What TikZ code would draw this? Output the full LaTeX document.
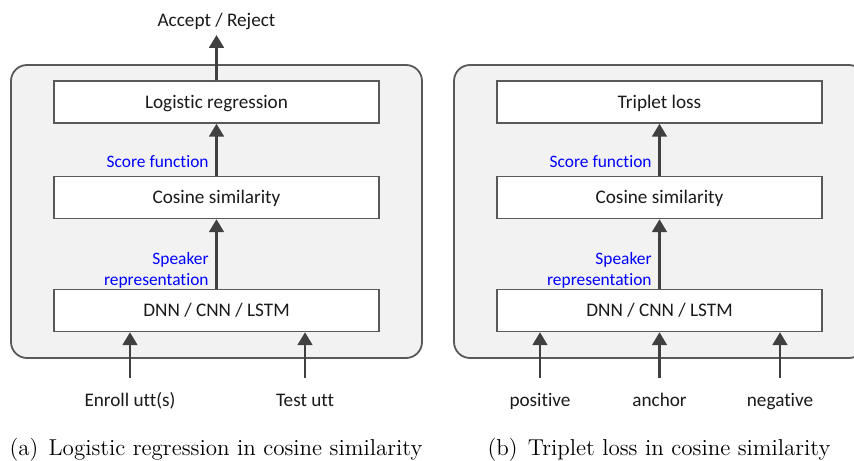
\documentclass[tikz,border=0pt]{standalone}
\usepackage{fontspec}
\setsansfont{Carlito}[Ligatures=NoCommon]
\usetikzlibrary{arrows.meta}
\definecolor{panelfill}{HTML}{F2F2F2}
\definecolor{edgegray}{HTML}{595959}
\definecolor{arrowgray}{HTML}{404040}
\definecolor{txt}{HTML}{1A1A1A}
\begin{document}
\begin{tikzpicture}[x=0.5pt,y=-0.5pt,
  panel/.style={draw=edgegray,line width=0.9pt,fill=panelfill,rounded corners=8pt},
  blk/.style={draw=edgegray,line width=0.75pt,fill=white,minimum width=162.5pt,minimum height=21pt,inner sep=0pt,font=\sffamily\fontsize{9.6}{11}\selectfont,text=txt,text height=6.2pt,text depth=0pt},
  lbl/.style={font=\sffamily\fontsize{9.6}{11}\selectfont,text=txt,inner sep=0pt,text height=6.2pt,text depth=0pt},
  bluelbl/.style={font=\sffamily\fontsize{8.7}{10.5}\selectfont,text=blue,inner sep=0pt,align=right,anchor=east},
  arr/.style={draw=arrowgray,line width=1.3pt,-{Triangle[length=6.4pt,width=7.3pt]}},
  captext/.style={font=\fontsize{11.5}{13}\selectfont,inner sep=0pt,text height=7.5pt,text depth=0pt}]
\clip (0,0) rectangle (854,460);
% ---------- panel (a) ----------
\draw[panel] (11,65) rectangle (422,358);
\node[blk] (logA) at (216.5,102) {Logistic regression};
\node[blk] (cosA) at (216.5,197.5) {Cosine similarity};
\node[blk] (dnnA) at (216.5,310.5) {DNN / CNN / LSTM};
\node[lbl] (accA) at (216.5,20) {Accept / Reject};
\coordinate (accTip) at (216.5,35);
\draw[arr] (logA.north) -- (accTip);
\draw[arr] (cosA.north) -- (logA.south);
\draw[arr] (dnnA.north) -- (cosA.south);
\node[bluelbl] (scoreA) at (209,162) {Score function};
\node[bluelbl] (repA) at (209,270) {Speaker\\representation};
\node[lbl] (enroll) at (130,400) {Enroll utt(s)};
\node[lbl] (test) at (305,400) {Test utt};
\coordinate (enrollS) at (130,378);
\coordinate (testS) at (305,378);
\draw[arr] (enrollS) -- (enrollS |- dnnA.south);
\draw[arr] (testS) -- (testS |- dnnA.south);
\node[captext] (capA) at (216,448) {(a)\hspace{0.45em}Logistic regression in cosine similarity};
% ---------- panel (b) ----------
\draw[panel] (454,65) rectangle (865,358);
\node[blk] (trip) at (659.5,102) {Triplet loss};
\node[blk] (cosB) at (659.5,197.5) {Cosine similarity};
\node[blk] (dnnB) at (659.5,310.5) {DNN / CNN / LSTM};
\draw[arr] (cosB.north) -- (trip.south);
\draw[arr] (dnnB.north) -- (cosB.south);
\node[bluelbl] (scoreB) at (652,162) {Score function};
\node[bluelbl] (repB) at (652,270) {Speaker\\representation};
\node[lbl] (pos) at (540,400) {positive};
\node[lbl] (anc) at (659.5,400) {anchor};
\node[lbl] (neg) at (780,400) {negative};
\coordinate (posS) at (540,378);
\coordinate (ancS) at (659.5,378);
\coordinate (negS) at (780,378);
\draw[arr] (posS) -- (posS |- dnnB.south);
\draw[arr] (ancS) -- (ancS |- dnnB.south);
\draw[arr] (negS) -- (negS |- dnnB.south);
\node[captext] (capB) at (659,448) {(b)\hspace{0.45em}Triplet loss in cosine similarity};
\end{tikzpicture}
\end{document}
